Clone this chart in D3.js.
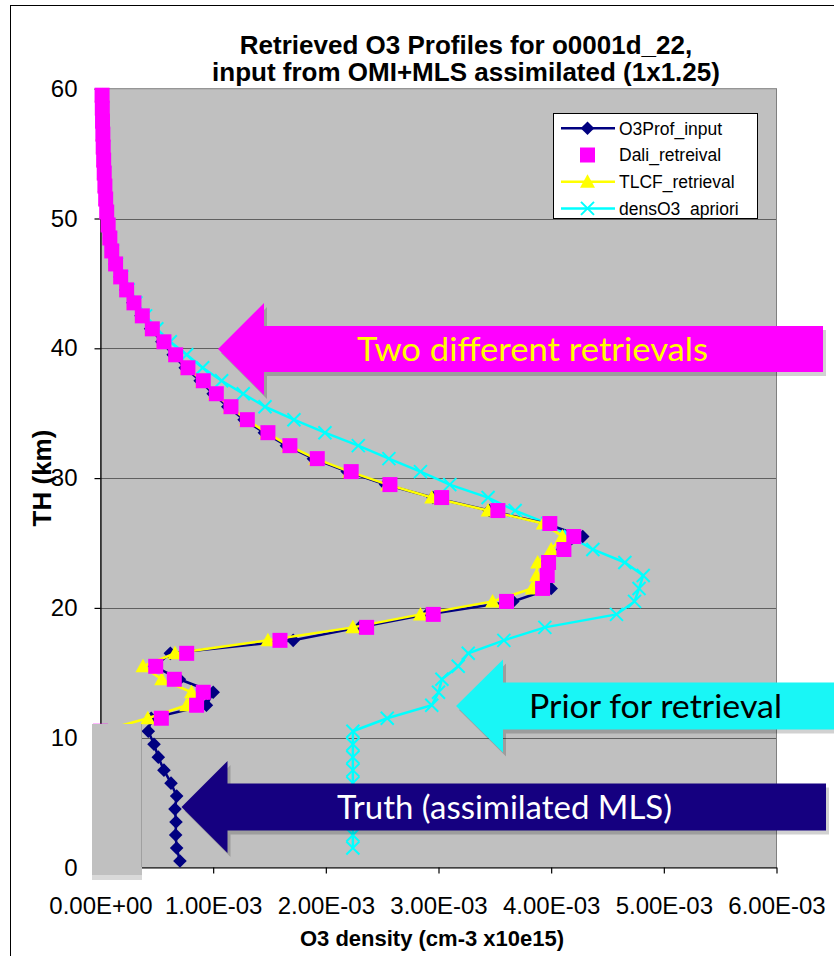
<!DOCTYPE html>
<html lang="en">
<head>
<meta charset="utf-8">
<title>Retrieved O3 Profiles</title>
<script src="https://cdn.jsdelivr.net/npm/d3@7"></script>
<style>
    body { margin: 0; background: #fff; }
    svg { display: block; }
</style>
</head>
<body>
<div id="graph"></div>
<script type="text/javascript">
    var w = 834;
    var h = 956;

    // altitude of each profile level (km)
    var altitudes = [0.5, 1.5, 2.5, 3.5, 4.5, 5.5, 6.5, 7.5, 8.5, 9.5,
        10.5, 11.5, 12.5, 13.5, 14.5, 15.5, 16.5, 17.5, 18.5, 19.5,
        20.5, 21.5, 22.5, 23.5, 24.5, 25.5, 26.5, 27.5, 28.5, 29.5,
        30.5, 31.5, 32.5, 33.5, 34.5, 35.5, 36.5, 37.5, 38.5, 39.5,
        40.5, 41.5, 42.5, 43.5, 44.5, 45.5, 46.5, 47.5, 48.5, 49.5,
        50.5, 51.5, 52.5, 53.5, 54.5, 55.5, 56.5, 57.5, 58.5, 59.5];

    // O3 density, in units of 1e-3 (cm-3 x10e15)
    var o3ProfInput = [0.705, 0.676, 0.667, 0.670, 0.661, 0.676, 0.626, 0.563, 0.513, 0.475,
        0.424, 0.45, 0.94, 1.00, 0.70, 0.48, 0.62, 1.71, 2.30, 2.90,
        3.66, 4.00, 3.95, 3.95, 4.10, 4.28, 3.95, 3.45, 2.95, 2.53,
        2.19, 1.89, 1.65, 1.455, 1.275, 1.13, 1.00, 0.885, 0.752, 0.645,
        0.545, 0.445, 0.36, 0.288, 0.225, 0.174, 0.13, 0.098, 0.08, 0.066,
        0.054, 0.045, 0.038, 0.032, 0.027, 0.023, 0.02, 0.017, 0.015, 0.013];

    var daliRetrieval = [0, 0, 0, 0, 0, 0, 0, 0, 0, 0,
        0, 0.54, 0.853, 0.912, 0.655, 0.49, 0.765, 1.593, 2.362, 2.953,
        3.604, 3.924, 3.965, 3.977, 4.113, 4.201, 3.988, 3.527, 3.028, 2.569,
        2.225, 1.924, 1.681, 1.486, 1.303, 1.158, 1.028, 0.912, 0.776, 0.667,
        0.563, 0.46, 0.371, 0.297, 0.232, 0.179, 0.134, 0.10, 0.083, 0.068,
        0.055, 0.046, 0.039, 0.033, 0.028, 0.024, 0.021, 0.018, 0.016, 0.014];

    var tlcfRetrieval = [0, 0, 0, 0, 0, 0, 0, 0, 0, 0,
        0, 0.42, 0.765, 0.809, 0.543, 0.377, 0.661, 1.486, 2.24, 2.84,
        3.48, 3.83, 3.87, 3.88, 4.00, 4.10, 3.93, 3.44, 2.94, 2.55,
        2.21, 1.91, 1.67, 1.475, 1.295, 1.15, 1.02, 0.905, 0.77, 0.662,
        0.558, 0.456, 0.368, 0.295, 0.23, 0.178, 0.133, 0.10, 0.082, 0.068,
        0.055, 0.046, 0.039, 0.033, 0.028, 0.024, 0.021, 0.018, 0.016, 0.014];

    var densO3Apriori = [null, 2.24, 2.24, 2.24, 2.24, 2.24, 2.24, 2.24, 2.24, 2.24,
        2.24, 2.545, 2.94, 3.00, 3.03, 3.175, 3.264, 3.58, 3.944, 4.58,
        4.74, 4.78, 4.817, 4.654, 4.37, 4.17, 3.97, 3.68, 3.44, 3.10,
        2.84, 2.56, 2.288, 1.992, 1.717, 1.46, 1.267, 1.075, 0.907, 0.765,
        0.62, 0.50, 0.40, 0.315, 0.245, 0.19, 0.142, 0.106, 0.087, 0.071,
        0.058, 0.048, 0.04, 0.034, 0.029, 0.025, 0.022, 0.019, 0.017, 0.015];

    var xTickValues = [0, 1, 2, 3, 4, 5, 6];
    var xTickLabels = ["0.00E+00", "1.00E-03", "2.00E-03", "3.00E-03", "4.00E-03", "5.00E-03", "6.00E-03"];
    var yTickValues = [0, 10, 20, 30, 40, 50, 60];
    var seriesNames = ["O3Prof_input", "Dali_retreival", "TLCF_retrieval", "densO3_apriori"];

    var x = d3.scaleLinear().domain([0, 6]).range([100.5, 776.5]);
    var y = d3.scaleLinear().domain([0, 60]).range([867.5, 88.7]);

    var svg = d3.select("#graph").append("svg")
        .attr("width", w)
        .attr("height", h);

    svg.append("rect").attr("width", w).attr("height", h).attr("fill", "#fff");

    // chart area frame (only top and left edges fall inside the picture)
    svg.append("rect")
        .attr("x", 10.5).attr("y", 5.5)
        .attr("width", 900).attr("height", 1000)
        .attr("fill", "none").attr("stroke", "#000");

    // plot area
    svg.append("rect")
        .attr("x", x(0)).attr("y", y(60))
        .attr("width", x(6) - x(0)).attr("height", y(0) - y(60))
        .attr("fill", "#c0c0c0")
        .attr("stroke", "#808080");

    // dotted gridlines
    svg.append("g").selectAll("line")
        .data([10, 20, 30, 40, 50])
        .enter().append("line")
        .attr("x1", x(0)).attr("x2", x(6))
        .attr("y1", function (d) { return Math.round(y(d)) + 0.5; })
        .attr("y2", function (d) { return Math.round(y(d)) + 0.5; })
        .attr("stroke", "#000")
        .attr("stroke-dasharray", "1,1");

    var xAxis = d3.axisBottom(x)
        .tickValues(xTickValues)
        .tickFormat(function (d, i) { return xTickLabels[i]; })
        .tickSize(6).tickSizeOuter(0).tickPadding(23);

    var yAxis = d3.axisLeft(y)
        .tickValues(yTickValues)
        .tickSize(6).tickSizeOuter(0).tickPadding(17);

    svg.append("g")
        .attr("class", "axis")
        .attr("transform", "translate(0," + y(0) + ")")
        .call(xAxis);

    svg.append("g")
        .attr("class", "axis")
        .attr("transform", "translate(" + x(0) + ",0)")
        .call(yAxis);

    svg.selectAll(".axis path, .axis line").attr("stroke", "#000").attr("stroke-width", 1.2);
    svg.selectAll(".axis text")
        .attr("font-family", "'Liberation Sans', Arial, sans-serif")
        .attr("font-size", "24px")
        .attr("fill", "#000");

    // series
    var rows = altitudes.map(function (a, i) {
        return {alt: a, input: o3ProfInput[i], dali: daliRetrieval[i], tlcf: tlcfRetrieval[i], apriori: densO3Apriori[i]};
    });

    function lineFor(key) {
        return d3.line()
            .defined(function (d) { return d[key] != null; })
            .x(function (d) { return x(d[key]); })
            .y(function (d) { return y(d.alt); });
    }

    var diamond = "M0,-6.8L6.8,0L0,6.8L-6.8,0Z";
    var square = "M-7.5,-7.5H7.5V7.5H-7.5Z";
    var triangle = "M0,-7.5L7.5,6L-7.5,6Z";
    var cross = "M-6.5,-6.5L6.5,6.5M6.5,-6.5L-6.5,6.5";

    var plot = svg.append("g");

    plot.append("path").datum(rows)
        .attr("d", lineFor("apriori"))
        .attr("fill", "none").attr("stroke", "#00ffff").attr("stroke-width", 2.5);

    plot.append("path").datum(rows)
        .attr("d", lineFor("input"))
        .attr("fill", "none").attr("stroke", "#000080").attr("stroke-width", 2.5);

    plot.append("g").selectAll("path")
        .data(rows)
        .enter().append("path")
        .attr("transform", function (d) { return "translate(" + x(d.input) + "," + y(d.alt) + ")"; })
        .attr("d", diamond)
        .attr("fill", "#000080");

    plot.append("g").selectAll("path")
        .data(rows.filter(function (d) { return d.apriori != null; }))
        .enter().append("path")
        .attr("transform", function (d) { return "translate(" + x(d.apriori) + "," + y(d.alt) + ")"; })
        .attr("d", cross)
        .attr("fill", "none").attr("stroke", "#00ffff").attr("stroke-width", 2);

    plot.append("path").datum(rows)
        .attr("d", lineFor("tlcf"))
        .attr("fill", "none").attr("stroke", "#ffff00").attr("stroke-width", 2.5);

    plot.append("g").selectAll("path")
        .data(rows)
        .enter().append("path")
        .attr("transform", function (d) { return "translate(" + x(d.tlcf) + "," + y(d.alt) + ")"; })
        .attr("d", triangle)
        .attr("fill", "#ffff00");

    plot.append("g").selectAll("path")
        .data(rows)
        .enter().append("path")
        .attr("transform", function (d) { return "translate(" + x(d.dali) + "," + y(d.alt) + ")"; })
        .attr("d", square)
        .attr("fill", "#ff00ff");

    // grey patch laid over the lower left corner of the plot
    svg.append("rect")
        .attr("x", 92).attr("y", 724).attr("width", 50).attr("height", 151)
        .attr("fill", "#c0c0c0");
    svg.append("rect")
        .attr("x", 92).attr("y", 875).attr("width", 50).attr("height", 5)
        .attr("fill", "#d9d9d9");
    svg.append("line")
        .attr("x1", 141.5).attr("x2", 141.5).attr("y1", 724).attr("y2", 867)
        .attr("stroke", "#a0a0a0");

    // legend
    var legend = svg.append("g");
    legend.append("rect")
        .attr("x", 553.5).attr("y", 113.5).attr("width", 204).attr("height", 105)
        .attr("fill", "#fff").attr("stroke", "#000");

    var legendItems = [
        {name: seriesNames[0], color: "#000080", line: true, marker: diamond, fill: true},
        {name: seriesNames[1], color: "#ff00ff", line: false, marker: square, fill: true},
        {name: seriesNames[2], color: "#ffff00", line: true, marker: triangle, fill: true},
        {name: seriesNames[3], color: "#00ffff", line: true, marker: cross, fill: false}
    ];

    var li = legend.selectAll(".li")
        .data(legendItems)
        .enter().append("g")
        .attr("transform", function (d, i) { return "translate(0," + (128.3 + i * 26.7) + ")"; });

    li.filter(function (d) { return d.line; })
        .append("line")
        .attr("x1", 561).attr("x2", 615)
        .attr("stroke", function (d) { return d.color; })
        .attr("stroke-width", 2.5);

    li.append("path")
        .attr("transform", "translate(587.5,0)")
        .attr("d", function (d) { return d.marker; })
        .attr("fill", function (d) { return d.fill ? d.color : "none"; })
        .attr("stroke", function (d) { return d.fill ? "none" : d.color; })
        .attr("stroke-width", 2);

    li.append("text")
        .attr("x", 619).attr("y", 6.3)
        .attr("font-family", "'Liberation Sans', Arial, sans-serif")
        .attr("font-size", "17.5px")
        .text(function (d) { return d.name; });

    // titles
    svg.append("text")
        .attr("x", 466).attr("y", 54)
        .attr("text-anchor", "middle")
        .attr("font-family", "'Liberation Sans', Arial, sans-serif")
        .attr("font-weight", "bold").attr("font-size", "26px")
        .text("Retrieved O3 Profiles for o0001d_22,");
    svg.append("text")
        .attr("x", 466).attr("y", 81)
        .attr("text-anchor", "middle")
        .attr("font-family", "'Liberation Sans', Arial, sans-serif")
        .attr("font-weight", "bold").attr("font-size", "26px")
        .text("input from OMI+MLS assimilated (1x1.25)");

    svg.append("text")
        .attr("text-anchor", "middle")
        .attr("transform", "translate(51,478)rotate(-90)")
        .attr("font-family", "'Liberation Sans', Arial, sans-serif")
        .attr("font-weight", "bold").attr("font-size", "26px")
        .text("TH (km)");

    svg.append("text")
        .attr("x", 432).attr("y", 946)
        .attr("text-anchor", "middle")
        .attr("font-family", "'Liberation Sans', Arial, sans-serif")
        .attr("font-weight", "bold").attr("font-size", "22px")
        .text("O3 density (cm-3 x10e15)");

    // block arrow call-outs
    var callouts = [
        {text: "Two different retrievals", tip: [218, 349], headX: 264, headHalf: 46, bodyHalf: 23, endX: 823,
            fill: "#ff00ff", color: "#ffff00", textX: 357, textW: 351},
        {text: "Prior for retrieval", tip: [456, 706], headX: 503, headHalf: 46.5, bodyHalf: 23.5, endX: 840,
            fill: "#19f6f6", color: "#000", textX: 529, textW: 253},
        {text: "Truth (assimilated MLS)", tip: [181.5, 807], headX: 227.5, headHalf: 46, bodyHalf: 23.5, endX: 826,
            fill: "#150080", color: "#fff", textX: 337, textW: 335}
    ];

    function arrowPath(c) {
        var cy = c.tip[1];
        return "M" + c.tip[0] + "," + cy +
            "L" + c.headX + "," + (cy - c.headHalf) +
            "L" + c.headX + "," + (cy - c.bodyHalf) +
            "L" + c.endX + "," + (cy - c.bodyHalf) +
            "L" + c.endX + "," + (cy + c.bodyHalf) +
            "L" + c.headX + "," + (cy + c.bodyHalf) +
            "L" + c.headX + "," + (cy + c.headHalf) + "Z";
    }

    var co = svg.append("g").selectAll("g")
        .data(callouts)
        .enter().append("g");

    co.append("path")
        .attr("transform", "translate(3,4)")
        .attr("d", arrowPath)
        .attr("fill", "#000").attr("fill-opacity", 0.18);

    co.append("path")
        .attr("d", arrowPath)
        .attr("fill", function (d) { return d.fill; });

    co.append("text")
        .attr("x", function (d) { return d.textX; })
        .attr("y", function (d) { return d.tip[1] + 11.5; })
        .attr("textLength", function (d) { return d.textW; })
        .attr("lengthAdjust", "spacingAndGlyphs")
        .attr("font-family", "Lato, 'Open Sans', sans-serif")
        .attr("font-size", "32px")
        .attr("fill", function (d) { return d.color; })
        .text(function (d) { return d.text; });
</script>
</body>
</html>
